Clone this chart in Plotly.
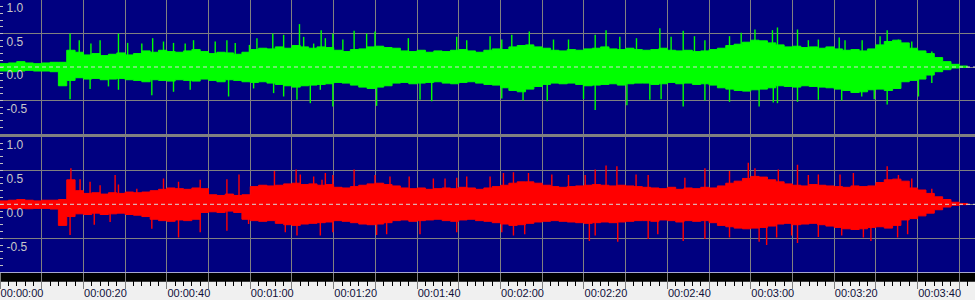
import plotly.graph_objects as go

# ---------------- data ----------------
# envelope sample times (s), one every 2 s
t_env = list(range(0, 234, 2))

# left channel (green, top panel) body envelope
L_top = [0.05, 0.06, 0.08, 0.06, 0.05, 0.06, 0.07, 0.07, 0.25, 0.22,
         0.18, 0.20, 0.17, 0.19, 0.21, 0.18, 0.20, 0.24, 0.22, 0.25,
         0.23, 0.22, 0.24, 0.26, 0.23, 0.20, 0.22, 0.21, 0.19, 0.22,
         0.26, 0.28, 0.27, 0.30, 0.28, 0.32, 0.30, 0.28, 0.30, 0.29,
         0.25, 0.23, 0.26, 0.27, 0.30, 0.31, 0.29, 0.28, 0.24, 0.23,
         0.25, 0.22, 0.24, 0.23, 0.25, 0.26, 0.24, 0.22, 0.25, 0.27,
         0.26, 0.30, 0.32, 0.33, 0.30, 0.28, 0.25, 0.24, 0.26, 0.25,
         0.27, 0.28, 0.30, 0.27, 0.26, 0.28, 0.26, 0.25, 0.26, 0.28,
         0.25, 0.24, 0.25, 0.23, 0.24, 0.26, 0.28, 0.32, 0.34, 0.37,
         0.40, 0.39, 0.36, 0.33, 0.30, 0.31, 0.29, 0.30, 0.28, 0.30,
         0.27, 0.25, 0.26, 0.24, 0.27, 0.33, 0.38, 0.40, 0.36, 0.28,
         0.24, 0.20, 0.14, 0.08, 0.04, 0.015, 0.005]
L_bot = [-0.05, -0.06, -0.07, -0.06, -0.05, -0.06, -0.06, -0.07, -0.28, -0.20,
         -0.16, -0.18, -0.17, -0.19, -0.18, -0.17, -0.19, -0.20, -0.22, -0.19,
         -0.20, -0.21, -0.19, -0.20, -0.21, -0.18, -0.20, -0.22, -0.19, -0.20,
         -0.22, -0.23, -0.22, -0.24, -0.26, -0.28, -0.30, -0.28, -0.27, -0.26,
         -0.25, -0.23, -0.24, -0.27, -0.30, -0.32, -0.30, -0.28, -0.24, -0.23,
         -0.25, -0.24, -0.23, -0.22, -0.24, -0.25, -0.23, -0.22, -0.24, -0.26,
         -0.27, -0.31, -0.35, -0.37, -0.33, -0.29, -0.26, -0.24, -0.25, -0.24,
         -0.26, -0.28, -0.27, -0.26, -0.25, -0.27, -0.25, -0.24, -0.24, -0.26,
         -0.25, -0.23, -0.25, -0.24, -0.26, -0.25, -0.27, -0.31, -0.33, -0.35,
         -0.36, -0.34, -0.33, -0.31, -0.28, -0.29, -0.30, -0.28, -0.29, -0.30,
         -0.31, -0.33, -0.35, -0.38, -0.37, -0.34, -0.33, -0.35, -0.32, -0.22,
         -0.20, -0.18, -0.12, -0.07, -0.04, -0.015, -0.005]

# right channel (red, bottom panel) body envelope
R_top = [0.05, 0.06, 0.07, 0.06, 0.05, 0.06, 0.06, 0.07, 0.36, 0.20,
         0.16, 0.17, 0.15, 0.17, 0.16, 0.18, 0.17, 0.18, 0.20, 0.22,
         0.24, 0.23, 0.22, 0.24, 0.23, 0.14, 0.13, 0.15, 0.13, 0.14,
         0.26, 0.28, 0.27, 0.28, 0.30, 0.31, 0.29, 0.30, 0.28, 0.29,
         0.25, 0.24, 0.26, 0.28, 0.30, 0.31, 0.29, 0.27, 0.24, 0.23,
         0.24, 0.22, 0.23, 0.24, 0.23, 0.25, 0.24, 0.22, 0.24, 0.26,
         0.28, 0.31, 0.33, 0.33, 0.31, 0.28, 0.26, 0.25, 0.26, 0.27,
         0.28, 0.29, 0.28, 0.27, 0.28, 0.27, 0.26, 0.25, 0.24, 0.23,
         0.25, 0.22, 0.24, 0.23, 0.25, 0.24, 0.27, 0.31, 0.34, 0.38,
         0.41, 0.40, 0.36, 0.33, 0.30, 0.28, 0.27, 0.29, 0.28, 0.27,
         0.26, 0.25, 0.27, 0.26, 0.27, 0.32, 0.36, 0.37, 0.34, 0.24,
         0.21, 0.16, 0.11, 0.07, 0.03, 0.012, 0.004]
R_bot = [-0.05, -0.06, -0.07, -0.06, -0.065, -0.06, -0.06, -0.07, -0.31, -0.18,
         -0.14, -0.15, -0.13, -0.15, -0.14, -0.13, -0.15, -0.16, -0.18, -0.22,
         -0.24, -0.25, -0.23, -0.24, -0.22, -0.12, -0.11, -0.12, -0.10, -0.12,
         -0.22, -0.24, -0.25, -0.24, -0.28, -0.30, -0.31, -0.29, -0.28, -0.27,
         -0.26, -0.24, -0.25, -0.27, -0.29, -0.30, -0.29, -0.27, -0.24, -0.23,
         -0.25, -0.24, -0.23, -0.22, -0.24, -0.25, -0.23, -0.22, -0.24, -0.25,
         -0.27, -0.29, -0.31, -0.30, -0.28, -0.26, -0.25, -0.24, -0.25, -0.26,
         -0.27, -0.28, -0.27, -0.26, -0.27, -0.26, -0.25, -0.24, -0.24, -0.25,
         -0.23, -0.24, -0.26, -0.24, -0.25, -0.24, -0.27, -0.31, -0.33, -0.35,
         -0.36, -0.35, -0.34, -0.32, -0.29, -0.28, -0.30, -0.29, -0.28, -0.30,
         -0.32, -0.34, -0.36, -0.37, -0.36, -0.34, -0.33, -0.35, -0.31, -0.23,
         -0.21, -0.17, -0.13, -0.08, -0.04, -0.015, -0.005]

# individual peaks (time s, amplitude)
L_up_t = [16.8, 19.0, 21.8, 24.0, 28.4, 30.6, 34.0, 36.6, 39.2, 41.6,
          44.4, 46.4, 51.6, 54.4, 56.4, 59.8, 61.6, 65.4, 68.0, 71.8,
          72.8, 75.2, 77.0, 78.0, 79.8, 82.2, 84.9, 87.9, 89.9, 97.9,
          109.5, 111.9, 117.5, 120.3, 122.7, 126.9, 132.7, 136.3, 142.7, 145.3,
          148.6, 152.6, 158.2, 160.9, 163.8, 166.5, 169.0, 174.9, 177.7, 181.0,
          185.2, 186.4, 191.2, 193.8, 196.2, 201.2, 202.6, 206.7, 211.0, 212.7,
          215.4, 218.6, 223.4]
L_up_v = [0.50, 0.40, 0.35, 0.40, 0.50, 0.36, 0.35, 0.43, 0.38, 0.36,
          0.35, 0.40, 0.38, 0.40, 0.36, 0.33, 0.43, 0.50, 0.48, 0.64,
          0.45, 0.35, 0.55, 0.43, 0.50, 0.41, 0.54, 0.50, 0.53, 0.43,
          0.45, 0.40, 0.46, 0.41, 0.48, 0.53, 0.41, 0.41, 0.48, 0.55,
          0.45, 0.43, 0.58, 0.45, 0.54, 0.46, 0.40, 0.46, 0.51, 0.56,
          0.55, 0.59, 0.56, 0.40, 0.41, 0.44, 0.40, 0.40, 0.46, 0.55,
          0.41, 0.38, 0.23]
L_dn_t = [16.8, 21.6, 26.0, 28.4, 36.4, 41.6, 45.6, 54.8, 60.8, 65.6,
          68.0, 71.2, 74.4, 76.8, 79.8, 90.3, 100.7, 103.5, 120.3, 125.4,
          131.2, 139.9, 142.7, 150.3, 155.8, 158.5, 163.8, 169.0, 174.9, 182.0,
          185.4, 186.4, 191.2, 196.2, 201.8, 206.6, 209.6, 212.7, 220.2, 223.4]
L_dn_v = [-0.48, -0.33, -0.29, -0.34, -0.42, -0.37, -0.34, -0.44, -0.32, -0.39,
          -0.44, -0.49, -0.54, -0.34, -0.59, -0.58, -0.49, -0.51, -0.47, -0.50,
          -0.51, -0.48, -0.64, -0.57, -0.49, -0.48, -0.59, -0.50, -0.52, -0.59,
          -0.53, -0.54, -0.52, -0.49, -0.50, -0.44, -0.48, -0.56, -0.44, -0.24]

R_up_t = [17.0, 19.2, 21.6, 24.0, 27.6, 28.4, 32.8, 39.2, 42.8, 48.0,
          54.4, 57.3, 65.8, 71.0, 72.0, 75.2, 77.2, 78.0, 79.8, 84.9,
          89.9, 93.5, 98.1, 103.9, 106.7, 109.5, 111.9, 117.5, 120.7, 123.1,
          126.7, 132.3, 136.3, 140.3, 142.7, 145.3, 147.9, 152.5, 155.4, 164.2,
          169.0, 174.9, 179.4, 181.0, 186.6, 191.2, 193.8, 196.2, 201.4, 204.6,
          212.7, 215.4, 218.6, 223.4]
R_up_v = [0.53, 0.37, 0.33, 0.28, 0.43, 0.29, 0.23, 0.38, 0.33, 0.36,
          0.37, 0.44, 0.49, 0.51, 0.44, 0.41, 0.36, 0.46, 0.43, 0.51,
          0.43, 0.41, 0.41, 0.38, 0.38, 0.39, 0.41, 0.41, 0.46, 0.47,
          0.46, 0.44, 0.43, 0.43, 0.51, 0.57, 0.56, 0.44, 0.43, 0.39,
          0.53, 0.49, 0.61, 0.53, 0.51, 0.58, 0.43, 0.44, 0.44, 0.46,
          0.56, 0.43, 0.38, 0.23]
R_dn_t = [16.8, 22.6, 26.4, 36.4, 42.8, 48.0, 54.4, 59.6, 68.4, 71.2,
          76.8, 79.8, 90.3, 92.7, 100.7, 109.5, 120.3, 123.1, 125.8, 141.3,
          142.7, 148.1, 155.4, 157.7, 163.8, 169.0, 174.9, 182.0, 183.8, 186.2,
          189.8, 191.2, 196.2, 201.8, 207.0, 208.8, 215.2, 217.6]
R_dn_v = [-0.45, -0.30, -0.26, -0.36, -0.49, -0.41, -0.39, -0.29, -0.41, -0.46,
          -0.46, -0.41, -0.45, -0.44, -0.44, -0.41, -0.41, -0.46, -0.44, -0.54,
          -0.46, -0.55, -0.51, -0.44, -0.54, -0.51, -0.49, -0.55, -0.60, -0.49,
          -0.46, -0.57, -0.48, -0.46, -0.49, -0.54, -0.49, -0.44]

# axis ticks
x_ticks = [0, 10, 20, 30, 40, 50, 60, 70, 80, 90, 100, 110,
           120, 130, 140, 150, 160, 170, 180, 190, 200, 210, 220, 230]
x_ticktext = ["00:00:00", "", "00:00:20", "", "00:00:40", "", "00:01:00", "",
              "00:01:20", "", "00:01:40", "", "00:02:00", "", "00:02:20", "",
              "00:02:40", "", "00:03:00", "", "00:03:20", "", "00:03:40", ""]
y_ticks = [-0.5, 0.0, 0.5, 1.0]
y_ticktext = ["-0.5", "0.0", "0.5", "1.0"]

# ---------------- style ----------------
NAVY = "#000080"
GRID = "#808080"
GREEN = "#00ff00"
RED = "#ff0000"
X_END = 975 / 4.171
FONT = "Liberation Sans"


def spike_xy(ts, vs):
    xs, ys = [], []
    for t, v in zip(ts, vs):
        xs += [t, t, None]
        ys += [0, v, None]
    return xs, ys


fig = go.Figure()
channels = [
    (L_top, L_bot, L_up_t + L_dn_t, L_up_v + L_dn_v, GREEN, "x2", "y2"),
    (R_top, R_bot, R_up_t + R_dn_t, R_up_v + R_dn_v, RED, "x", "y"),
]
for top, bot, st, sv, col, xa, ya in channels:
    n = min(len(t_env), len(top), len(bot))
    # upper edge and lower edge drawn as stepped outlines, filled between
    fig.add_trace(go.Scatter(x=t_env[:n], y=top[:n], mode="lines",
                             line=dict(color=col, width=1, shape="hv"),
                             xaxis=xa, yaxis=ya, hoverinfo="skip",
                             showlegend=False))
    fig.add_trace(go.Scatter(x=t_env[:n], y=bot[:n], mode="lines",
                             line=dict(color=col, width=1, shape="vh"),
                             fill="tonexty", fillcolor=col,
                             xaxis=xa, yaxis=ya, hoverinfo="skip",
                             showlegend=False))
    sx, sy = spike_xy(st, sv)
    fig.add_trace(go.Scatter(x=sx, y=sy, mode="lines",
                             line=dict(color=col, width=1.4),
                             xaxis=xa, yaxis=ya, hoverinfo="skip",
                             showlegend=False))

x_common = dict(range=[0, X_END], tickmode="array", tickvals=x_ticks,
                showgrid=True, gridcolor=GRID, gridwidth=1, zeroline=False,
                showline=False, fixedrange=True, automargin=False)
y_common = dict(range=[-1, 1], tickmode="array", tickvals=y_ticks,
                ticktext=y_ticktext, showgrid=True, gridcolor=GRID,
                gridwidth=1, zeroline=False, showline=False,
                ticks="inside", ticklen=3, tickcolor="#c0c0c0", tickwidth=1,
                ticklabelposition="inside", ticklabelshift=8,
                ticklabelstandoff=3, ticklabeloverflow="allow",
                tickfont=dict(family=FONT, size=12, color="#c8c8c8"),
                minor=dict(tickmode="linear", tick0=0, dtick=0.1,
                           ticks="inside", ticklen=3, tickcolor="#c0c0c0",
                           showgrid=False),
                fixedrange=True, automargin=False)

fig.update_layout(
    width=975, height=300,
    margin=dict(l=0, r=0, t=0, b=0, pad=0, autoexpand=False),
    paper_bgcolor="#f0f0f0",
    plot_bgcolor=NAVY,
    showlegend=False,
    xaxis=dict(**x_common, domain=[0, 1], anchor="y", ticktext=x_ticktext,
               ticks="outside", ticklen=16, tickcolor=GRID, tickwidth=1,
               ticklabelshift=22, ticklabelstandoff=-6,
               ticklabeloverflow="allow",
               tickfont=dict(family=FONT, size=11, color="#10103a"),
               minor=dict(tickmode="linear", tick0=0, dtick=2,
                          ticks="outside", ticklen=13, tickcolor="#000000",
                          tickwidth=1, showgrid=False)),
    xaxis2=dict(**x_common, domain=[0, 1], anchor="y2", matches="x",
                showticklabels=False, ticks=""),
    yaxis=dict(**y_common, domain=[1 - 272.3 / 300, 1 - 136.3 / 300],
               anchor="x"),
    yaxis2=dict(**y_common, domain=[1 - 134 / 300, 1], anchor="x2"),
    shapes=[
        # zero reference lines
        dict(type="line", xref="x domain", x0=0, x1=1, yref="y", y0=0, y1=0,
             line=dict(color="#d8d8d8", width=1, dash="4px,3px"), layer="above"),
        dict(type="line", xref="x2 domain", x0=0, x1=1, yref="y2", y0=0, y1=0,
             line=dict(color="#d8d8d8", width=1, dash="4px,3px"), layer="above"),
        # channel separator bar
        dict(type="rect", xref="paper", x0=0, x1=1, yref="paper",
             y0=1 - 137 / 300, y1=1 - 134 / 300, fillcolor=GRID,
             line=dict(width=0), layer="above"),
        # black band above the time ruler
        dict(type="rect", xref="paper", x0=0, x1=1, yref="paper",
             y0=1 - 281.7 / 300, y1=1 - 273 / 300, fillcolor="#000000",
             line=dict(width=0), layer="below"),
    ],
)

fig.write_html("out.html")
